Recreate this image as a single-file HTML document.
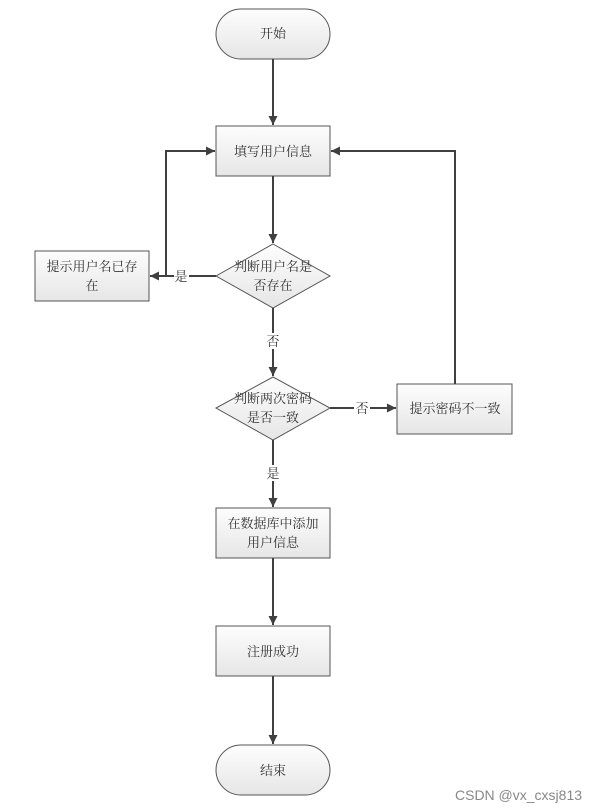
<!DOCTYPE html>
<html><head><meta charset="utf-8"><style>
html,body{margin:0;padding:0;background:#fff;width:608px;height:812px;overflow:hidden}
svg text{font-family:"Liberation Serif","Noto Serif CJK SC","Noto Sans CJK SC",serif;font-size:13px;fill:#333}
</style></head><body>
<svg width="608" height="812" viewBox="0 0 608 812" xmlns="http://www.w3.org/2000/svg">
<defs>
<linearGradient id="g" x1="0" y1="0" x2="0" y2="1"><stop offset="0" stop-color="#fdfdfd"/><stop offset="1" stop-color="#e6e6e6"/></linearGradient>
<marker id="a" viewBox="0 0 10 10" refX="10" refY="5" markerWidth="9" markerHeight="9" orient="auto" markerUnits="userSpaceOnUse"><path d="M0,0L10,5L0,10z" fill="#404040"/></marker>
</defs>
<g fill="url(#g)" stroke="#555" stroke-width="1">
<rect x="216" y="9" width="114" height="50" rx="25" ry="25"/>
<rect x="216" y="126" width="114" height="50"/>
<polygon points="273,244 330,276 273,308 216,276"/>
<rect x="35" y="251" width="114" height="50"/>
<polygon points="273,377 330,408 273,440 216,408"/>
<rect x="397" y="384" width="115" height="50"/>
<rect x="216" y="508" width="114" height="50"/>
<rect x="216" y="626" width="114" height="50"/>
<rect x="216" y="745" width="114" height="50" rx="25" ry="25"/>
</g>
<g stroke="#404040" stroke-width="2" fill="none" marker-end="url(#a)">
<line x1="273" y1="59" x2="273" y2="125"/>
<line x1="273" y1="176" x2="273" y2="243"/>
<polyline points="216,276 150,276"/>
<polyline points="166,276 166,151 215,151"/>
<line x1="273" y1="308" x2="273" y2="376"/>
<line x1="330" y1="408" x2="396" y2="408"/>
<polyline points="455,384 455,151 331,151"/>
<line x1="273" y1="440" x2="273" y2="507"/>
<line x1="273" y1="558" x2="273" y2="625"/>
<line x1="273" y1="676" x2="273" y2="744"/>
</g>
<g fill="#fff">
<rect x="174" y="268" width="15" height="16"/>
<rect x="265" y="333" width="16" height="16"/>
<rect x="354" y="400" width="16" height="16"/>
<rect x="265" y="465" width="16" height="16"/>
</g>
<g text-anchor="middle">
<text x="273" y="38">开始</text>
<text x="273" y="156">填写用户信息</text>
<text x="273" y="271">判断用户名是</text>
<text x="273" y="290">否存在</text>
<text x="92" y="271">提示用户名已存</text>
<text x="92" y="290">在</text>
<text x="181" y="281">是</text>
<text x="273" y="346">否</text>
<text x="273" y="403">判断两次密码</text>
<text x="273" y="422">是否一致</text>
<text x="362" y="413">否</text>
<text x="455" y="413">提示密码不一致</text>
<text x="273" y="478">是</text>
<text x="273" y="528">在数据库中添加</text>
<text x="273" y="547">用户信息</text>
<text x="273" y="656">注册成功</text>
<text x="273" y="775">结束</text>
</g>
<text x="455" y="800" style="font-family:'Liberation Sans',sans-serif;font-size:14px;fill:#888">CSDN @vx_cxsj813</text>
</svg>
</body></html>
